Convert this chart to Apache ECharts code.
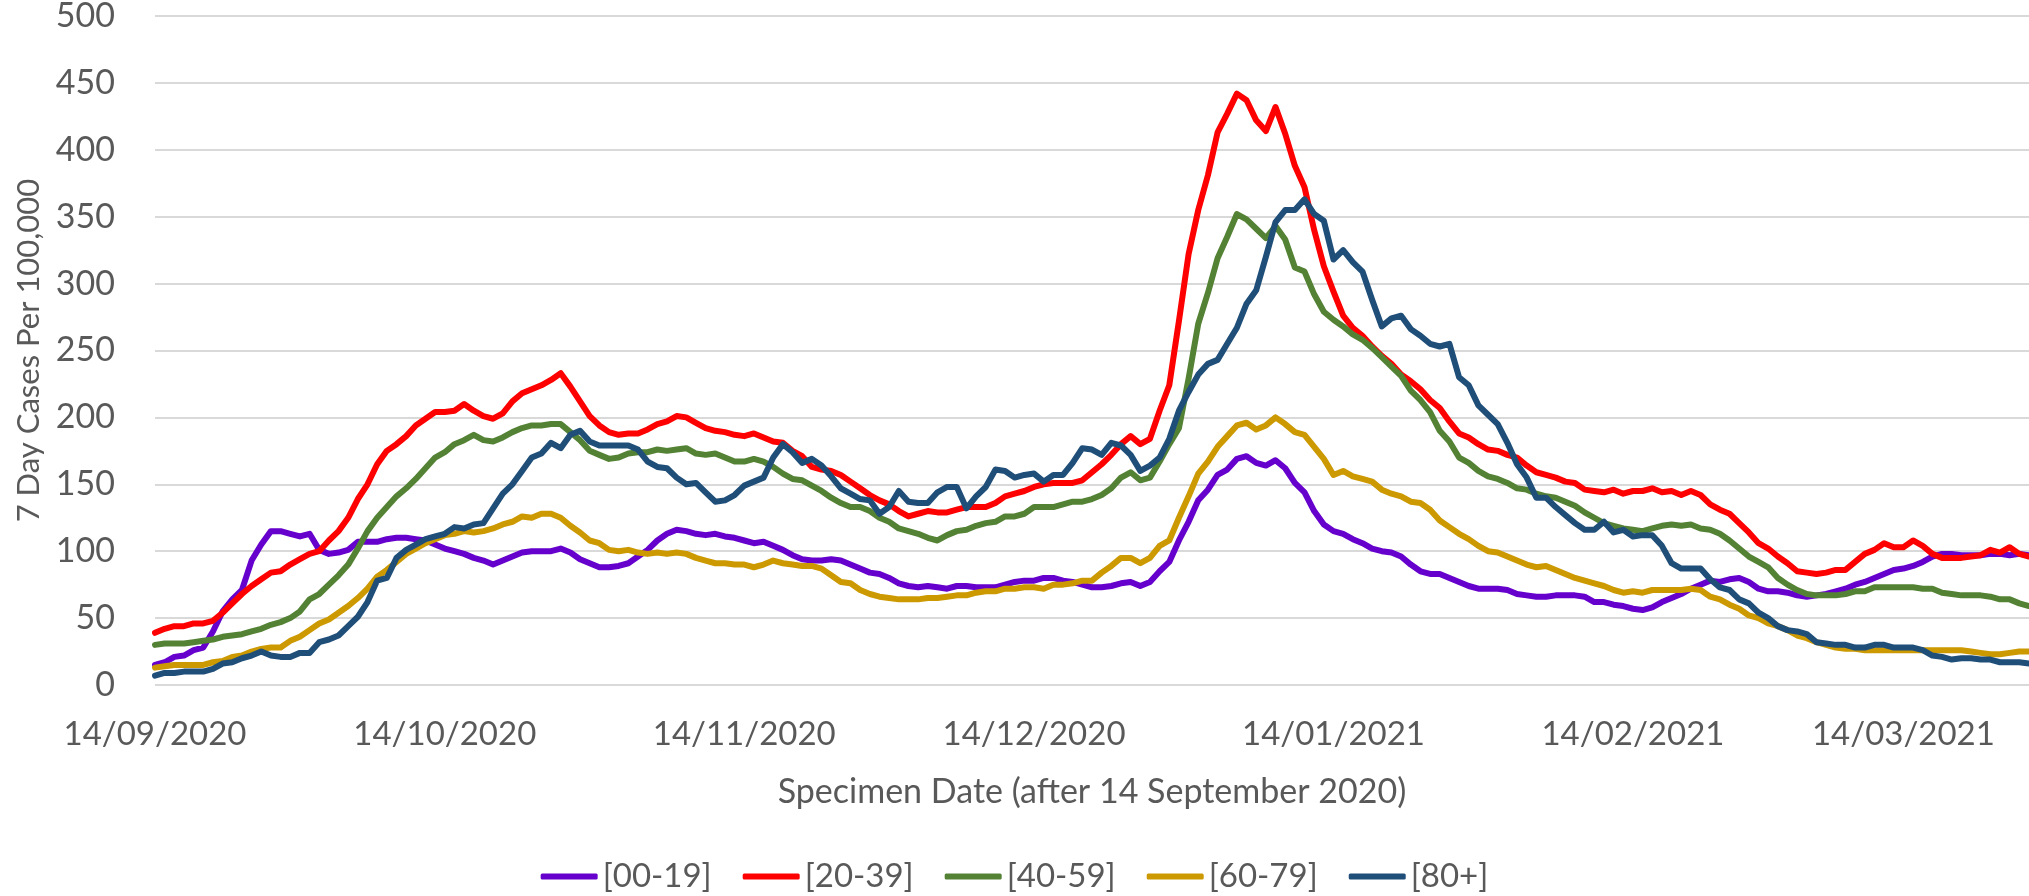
<!DOCTYPE html>
<html>
<head>
<meta charset="utf-8">
<title>7 Day Cases Per 100,000 by age band</title>
<script src="https://cdn.jsdelivr.net/npm/echarts@6/dist/echarts.min.js"></script>
<style>
  html, body { margin: 0; padding: 0; background: #fff; }
  #chart { width: 2029px; height: 896px; }
</style>
</head>
<body>
<div id="chart"></div>
<script>
// one value per specimen day, starting 14/09/2020
const startDate = Date.UTC(2020, 8, 14);
const dayCount = 195;

const seriesNames = ['[00-19]', '[20-39]', '[40-59]', '[60-79]', '[80+]'];

// y axis ticks
const yMin = 0;
const yMax = 500;
const yStep = 50;

// 7 day cases per 100,000
const age00to19 = [15,17,21,22,26,28,40,55,64,71,93,105,115,115,113,111,113,101,98,99,101,107,107,107,109,110,110,109,108,105,102,100,98,95,93,
  90,93,96,99,100,100,100,102,99,94,91,88,88,89,91,96,101,108,113,116,115,113,112,113,111,110,108,106,107,104,101,97,
  94,93,93,94,93,90,87,84,83,80,76,74,73,74,73,72,74,74,73,73,73,75,77,78,78,80,80,78,77,75,73,73,74,
  76,77,74,77,85,92,108,122,138,146,157,161,169,171,166,164,168,162,151,144,130,120,115,113,109,106,102,100,99,96,90,85,83,
  83,80,77,74,72,72,72,71,68,67,66,66,67,67,67,66,62,62,60,59,57,56,58,62,65,68,72,75,78,77,79,80,77,72,
  70,70,69,67,66,67,68,70,72,75,77,80,83,86,87,89,92,96,98,98,97,97,97,98,98,97,98,97];

const age20to39 = [39,42,44,44,46,46,48,54,61,68,74,79,84,85,90,94,98,100,108,115,125,139,150,165,175,180,186,194,199,204,204,205,210,205,201,
  199,203,212,218,221,224,228,233,223,212,201,194,189,187,188,188,191,195,197,201,200,196,192,190,189,187,186,188,185,182,181,175,
  171,163,161,160,157,152,147,142,138,135,130,126,128,130,129,129,131,133,133,133,136,141,143,145,148,150,151,151,151,153,159,165,172,
  180,186,180,184,205,224,272,322,355,381,413,427,442,437,422,414,432,412,388,372,340,313,294,276,267,261,253,246,240,232,227,221,213,
  207,197,188,185,180,176,175,172,170,164,159,157,155,152,151,146,145,144,146,143,145,145,147,144,145,142,145,142,135,131,128,121,114,106,
  102,96,91,85,84,83,84,86,86,92,98,101,106,103,103,108,104,98,95,95,95,96,97,101,99,103,98,96];

const age40to59 = [30,31,31,31,32,33,34,36,37,38,40,42,45,47,50,55,64,68,75,82,90,102,115,125,133,141,147,154,162,170,174,180,183,187,183,
  182,185,189,192,194,194,195,195,189,183,175,172,169,170,173,174,174,176,175,176,177,173,172,173,170,167,167,169,167,163,158,154,
  153,149,145,140,136,133,133,130,125,122,117,115,113,110,108,112,115,116,119,121,122,126,126,128,133,133,133,135,137,137,139,142,147,
  155,159,153,155,167,180,192,229,270,293,319,335,352,348,341,334,343,333,312,309,292,279,273,268,262,258,252,245,238,231,220,213,204,
  190,182,170,166,160,156,154,151,147,146,143,141,140,137,134,129,125,121,119,117,116,115,117,119,120,119,120,117,116,113,108,102,96,92,
  88,80,75,71,68,67,67,67,68,70,70,73,73,73,73,73,72,72,69,68,67,67,67,66,64,64,61,59];

const age60to79 = [13,14,15,15,15,15,17,18,21,22,25,27,28,28,33,36,41,46,49,54,59,65,72,81,86,92,98,102,106,109,112,113,115,114,115,
  117,120,122,126,125,128,128,125,119,114,108,106,101,100,101,99,98,99,98,99,98,95,93,91,91,90,90,88,90,93,91,90,
  89,89,87,82,77,76,71,68,66,65,64,64,64,65,65,66,67,67,69,70,70,72,72,73,73,72,75,75,76,78,78,84,89,
  95,95,91,95,104,108,125,141,158,167,178,186,194,196,191,194,200,195,189,187,178,169,157,160,156,154,152,146,143,141,137,136,131,
  123,118,113,109,104,100,99,96,93,90,88,89,86,83,80,78,76,74,71,69,70,69,71,71,71,71,72,71,66,64,60,57,52,50,
  46,44,41,37,35,32,30,28,27,27,26,26,26,26,26,26,26,26,26,26,26,25,24,23,23,24,25,25];

const age80plus = [7,9,9,10,10,10,12,16,17,20,22,25,22,21,21,24,24,32,34,37,44,51,62,78,80,95,101,105,109,111,113,118,117,120,121,
  132,143,150,160,170,173,181,177,187,190,182,179,179,179,179,176,167,163,162,155,150,151,144,137,138,142,149,152,155,170,180,174,
  166,169,164,156,147,143,139,138,128,133,145,137,136,136,144,148,148,132,141,148,161,160,155,157,158,152,157,157,166,177,176,172,181,
  179,172,160,164,170,184,205,219,232,240,243,255,267,285,295,320,346,355,355,363,352,347,318,325,316,309,288,268,274,276,266,261,255,
  253,255,230,224,209,202,195,181,165,155,140,140,133,127,121,116,116,122,114,116,111,112,112,104,91,87,87,87,79,73,71,64,61,54,
  50,44,41,40,38,32,31,30,30,28,28,30,30,28,28,28,26,22,21,19,20,20,19,19,17,17,17,16];

const pad = n => (n < 10 ? '0' : '') + n;
const categories = [];
for (let i = 0; i < dayCount; i++) {
  const d = new Date(startDate + i * 86400000);
  categories.push(pad(d.getUTCDate()) + '/' + pad(d.getUTCMonth() + 1) + '/' + d.getUTCFullYear());
}

const textColor = '#595959';
const fontFamily = 'Lato';
const seriesData = [age00to19, age20to39, age40to59, age60to79, age80plus];

const chart = echarts.init(document.getElementById('chart'));

chart.setOption({
  animation: false,
  textStyle: { fontFamily: fontFamily, color: textColor },
  color: ['#6600CC', '#FF0000', '#548235', '#CC9900', '#1F4E79'],
  grid: { left: 155, right: 0, top: 16, bottom: 211, containLabel: false, outerBoundsMode: 'none' },
  legend: {
    data: seriesNames,
    left: 'center',
    top: 860,
    padding: 0,
    icon: 'roundRect',
    itemWidth: 57,
    itemHeight: 6,
    itemGap: 31,
    textStyle: { fontSize: 33, color: textColor, fontFamily: fontFamily }
  },
  xAxis: {
    type: 'category',
    data: categories,
    boundaryGap: false,
    axisLine: { show: false },
    axisTick: { show: false },
    splitLine: { show: false },
    axisLabel: {
      // Excel style monthly labels on the 14th
      interval: (index, value) => value.indexOf('14/') === 0,
      margin: 33,
      fontSize: 33,
      color: textColor,
      fontFamily: fontFamily
    },
    name: 'Specimen Date (after 14 September 2020)',
    nameLocation: 'middle',
    nameGap: 90,
    nameTextStyle: { fontSize: 34, color: textColor, fontFamily: fontFamily }
  },
  yAxis: {
    type: 'value',
    min: yMin,
    max: yMax,
    interval: yStep,
    axisLine: { show: false },
    axisTick: { show: false },
    axisLabel: { margin: 40, fontSize: 34, color: textColor, fontFamily: fontFamily },
    splitLine: { lineStyle: { color: '#D9D9D9', width: 2 } },
    name: '7 Day Cases Per 100,000',
    nameLocation: 'middle',
    nameGap: 106,
    nameTextStyle: { fontSize: 31, color: textColor, fontFamily: fontFamily }
  },
  series: seriesNames.map((name, i) => ({
    name: name,
    type: 'line',
    data: seriesData[i],
    symbol: 'none',
    showSymbol: false,
    lineStyle: { width: 6, cap: 'round', join: 'round' },
    emphasis: { disabled: true }
  }))
});
</script>
</body>
</html>
